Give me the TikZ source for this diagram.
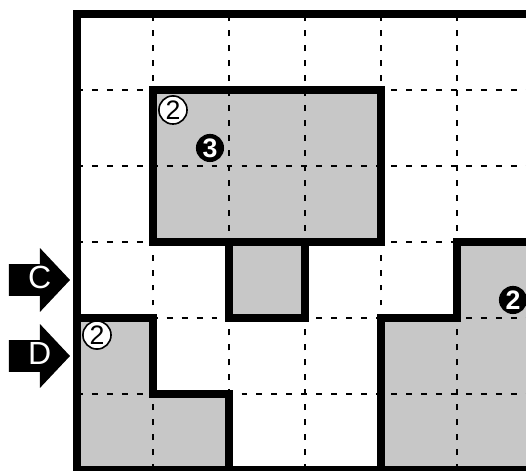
\documentclass[tikz,border=0pt]{standalone}
\usepackage{fontspec}
\setmainfont{Liberation Sans}
\begin{document}
\begin{tikzpicture}[x=1cm, y=1cm,
    wall/.style={line width=3.2pt, line join=miter},
    cell/.style={fill=black!22},
    gridline/.style={line width=0.7pt, dash pattern=on 2.2pt off 3.4pt},
    whiteclue/.style={circle, draw, fill=white, line width=0.6pt, inner sep=0pt,
        minimum size=0.37cm, font=\fontsize{10}{11}\selectfont},
    blackclue/.style={circle, fill=black, text=white, inner sep=0pt,
        minimum size=0.37cm, font=\bfseries\fontsize{10}{11}\selectfont},
    entry/.style={text=white, font=\fontsize{12}{13}\selectfont}]
    \useasboundingbox (-1.013,-0.005) rectangle (5.908,6.184);
    \clip (-1.013,-0.005) rectangle (5.908,6.184);

    % Grey blocks
    \fill[cell] (1,3) rectangle (4,5);
    \fill[cell] (2,2) rectangle (3,3);
    \fill[cell] (0,0) -- (0,2) -- (1,2) -- (1,1) -- (2,1) -- (2,0) -- cycle;
    \fill[cell] (4,0) -- (4,2) -- (5,2) -- (5,3) -- (7,3) -- (7,0) -- cycle;

    % Dashed grid
    \foreach \i in {1,...,6} {
        \draw[gridline] (\i,0) -- (\i,6);
    }
    \foreach \j in {1,...,5} {
        \draw[gridline] (0,\j) -- (7,\j);
    }

    % Block outlines
    \draw[wall] (1,3) rectangle (4,5);
    \draw[wall] (2,3) -- (2,2) -- (3,2) -- (3,3);
    \draw[wall] (0,2) -- (1,2) -- (1,1) -- (2,1) -- (2,0);
    \draw[wall] (4,0) -- (4,2) -- (5,2) -- (5,3) -- (7,3);

    % Outer frame
    \draw[wall] (7,6) -- (0,6) -- (0,0) -- (7,0);

    % Entry arrows
    \foreach \name/\y in {C/2.5, D/1.5} {
        \fill (-0.895,\y+0.21) -- (-0.487,\y+0.21) -- (-0.487,\y+0.42)
            -- (-0.092,\y) -- (-0.487,\y-0.42) -- (-0.487,\y-0.21)
            -- (-0.895,\y-0.21) -- cycle;
        \node[entry] (arrow\name) at (-0.49,\y+0.03) {\name};
    }

    % Clues
    \node[whiteclue] (clueA) at (1.263,4.737) {2};
    \node[blackclue] (clueB) at (1.75,4.237) {3};
    \node[whiteclue] (clueC) at (0.263,1.776) {2};
    \node[blackclue] (clueD) at (5.737,2.237) {2};
\end{tikzpicture}
\end{document}
